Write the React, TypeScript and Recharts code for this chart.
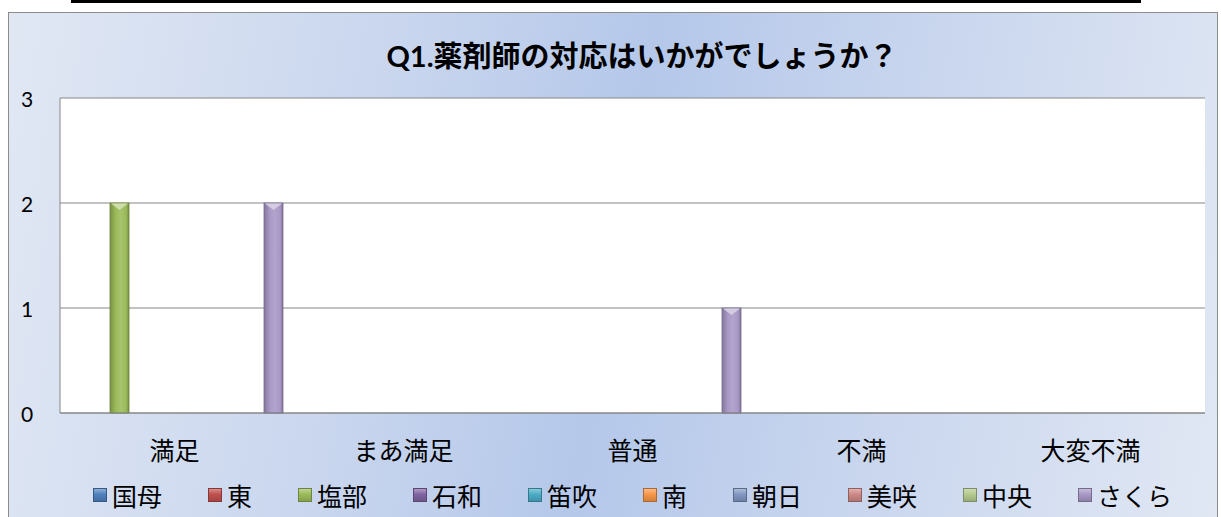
import { Bar, BarChart, CartesianGrid, Legend, XAxis, YAxis } from 'recharts'

const categories = ['満足', 'まあ満足', '普通', '不満', '大変不満']
const stores = ['国母', '東', '塩部', '石和', '笛吹', '南', '朝日', '美咲', '中央', 'さくら']

// answers per store, in category order
const kokubo = [0, 0, 0, 0, 0]
const higashi = [0, 0, 0, 0, 0]
const shiobe = [2, 0, 0, 0, 0]
const isawa = [0, 0, 0, 0, 0]
const fuefuki = [0, 0, 0, 0, 0]
const minami = [0, 0, 0, 0, 0]
const asahi = [0, 0, 0, 0, 0]
const misaki = [0, 0, 0, 0, 0]
const chuo = [0, 0, 0, 0, 0]
const sakura = [2, 0, 1, 0, 0]

const storeValues = [kokubo, higashi, shiobe, isawa, fuefuki, minami, asahi, misaki, chuo, sakura]
const colors = ['#4f81bd', '#c0504d', '#9bbb59', '#8064a2', '#4bacc6', '#f79646', '#8197c2', '#cd8886', '#b4c98e', '#a898c6']
const yTicks = [0, 1, 2, 3]

const title = 'Q1.薬剤師の対応はいかがでしょうか？'

const data = categories.map((name, i) => {
  const row: Record<string, string | number> = { name }
  stores.forEach((s, j) => {
    row[s] = storeValues[j][i]
  })
  return row
})

const JP = "'Noto Sans CJK JP', sans-serif"

function mix(hex: string, target: number, amt: number) {
  const n = parseInt(hex.slice(1), 16)
  const ch = [(n >> 16) & 255, (n >> 8) & 255, n & 255].map((c) => Math.round(c + (target - c) * amt))
  return '#' + ch.map((c) => c.toString(16).padStart(2, '0')).join('')
}

function BevelBar(props: any) {
  const { x, y, width, height, base, gid } = props
  if (!height || height <= 0) return null
  const cap = Math.min(7, height / 2)
  return (
    <g>
      <rect x={x} y={y} width={width} height={height} fill={`url(#${gid})`} stroke={mix(base, 0, 0.3)} strokeWidth={0.8} />
      <polygon
        points={`${x + 1},${y + 0.5} ${x + width - 1},${y + 0.5} ${x + width / 2},${y + cap}`}
        fill={mix(base, 255, 0.5)}
      />
    </g>
  )
}

function YTick(props: any) {
  const { x, y, payload } = props
  return (
    <text x={x - 33} y={y} textAnchor="middle" dominantBaseline="central" fontSize={21} fontFamily="Lato, sans-serif" fill="#000">
      {payload.value}
    </text>
  )
}

function XTick(props: any) {
  const { x, y, payload } = props
  return (
    <text x={x} y={y + 36} textAnchor="middle" dominantBaseline="central" fontSize={25} fontFamily={JP} fill="#000">
      {payload.value}
    </text>
  )
}

function LegendRow() {
  return (
    <div style={{ display: 'flex', justifyContent: 'center', alignItems: 'center', height: 36, gap: 46, fontSize: 25, fontFamily: JP, color: '#000' }}>
      {stores.map((s, j) => (
        <div key={s} style={{ display: 'flex', alignItems: 'center' }}>
          <span
            style={{
              width: 12,
              height: 12,
              marginRight: 5,
              border: `1px solid ${mix(colors[j], 0, 0.3)}`,
              background: `linear-gradient(180deg, ${mix(colors[j], 255, 0.35)} 0%, ${colors[j]} 45%, ${mix(colors[j], 0, 0.15)} 100%)`,
            }}
          />
          <span style={{ lineHeight: '36px' }}>{s}</span>
        </div>
      ))}
    </div>
  )
}

export default function App() {
  return (
    <div style={{ position: 'fixed', left: 0, top: 0, width: 1221, height: 517, background: '#fff', overflow: 'hidden' }}>
      <div style={{ position: 'absolute', left: 71, top: 0, width: 1070, height: 3, background: '#000' }} />
      <div
        style={{
          position: 'absolute',
          left: 8,
          top: 12,
          width: 1208,
          height: 520,
          border: '1px solid #8c8c8c',
          background: 'linear-gradient(100deg, #e1e8f4 0%, #c9d6ee 30%, #b5c8ea 50%, #c9d6ee 72%, #e1e8f4 100%)',
        }}
      />
      <div
        style={{
          position: 'absolute',
          left: 63,
          top: 38,
          width: 1158,
          textAlign: 'center',
          fontFamily: `Lato, ${JP}`,
          fontWeight: 700,
          fontSize: 29,
          lineHeight: '36px',
          color: '#000',
        }}
      >
        {title}
      </div>
      <div style={{ position: 'absolute', left: 0, top: 0 }}>
        <BarChart width={1221} height={517} data={data} margin={{ top: 98, right: 16, bottom: 4, left: 0 }} barGap={3} barSize={19}>
          <defs>
            {colors.map((c, j) => (
              <linearGradient key={j} id={`g${j}`} x1="0" y1="0" x2="1" y2="0">
                <stop offset="0%" stopColor={mix(c, 0, 0.22)} />
                <stop offset="30%" stopColor={c} />
                <stop offset="55%" stopColor={mix(c, 255, 0.12)} />
                <stop offset="85%" stopColor={c} />
                <stop offset="100%" stopColor={mix(c, 0, 0.25)} />
              </linearGradient>
            ))}
          </defs>
          <CartesianGrid vertical={false} stroke="#868686" fill="#ffffff" />
          <XAxis dataKey="name" height={64} tickSize={0} tickMargin={0} axisLine={{ stroke: '#868686' }} tickLine={false} tick={<XTick />} interval={0} />
          <YAxis width={60} domain={[0, 3]} ticks={yTicks} tickSize={0} tickMargin={0} axisLine={{ stroke: '#868686' }} tickLine={false} tick={<YTick />} />
          <Legend verticalAlign="bottom" content={() => <LegendRow />} wrapperStyle={{ left: 60, width: 1145 }} />
          {stores.map((s, j) => (
            <Bar
              key={s}
              dataKey={s}
              fill={colors[j]}
              isAnimationActive={false}
              shape={(p: any) => <BevelBar {...p} base={colors[j]} gid={`g${j}`} />}
            />
          ))}
        </BarChart>
      </div>
    </div>
  )
}
